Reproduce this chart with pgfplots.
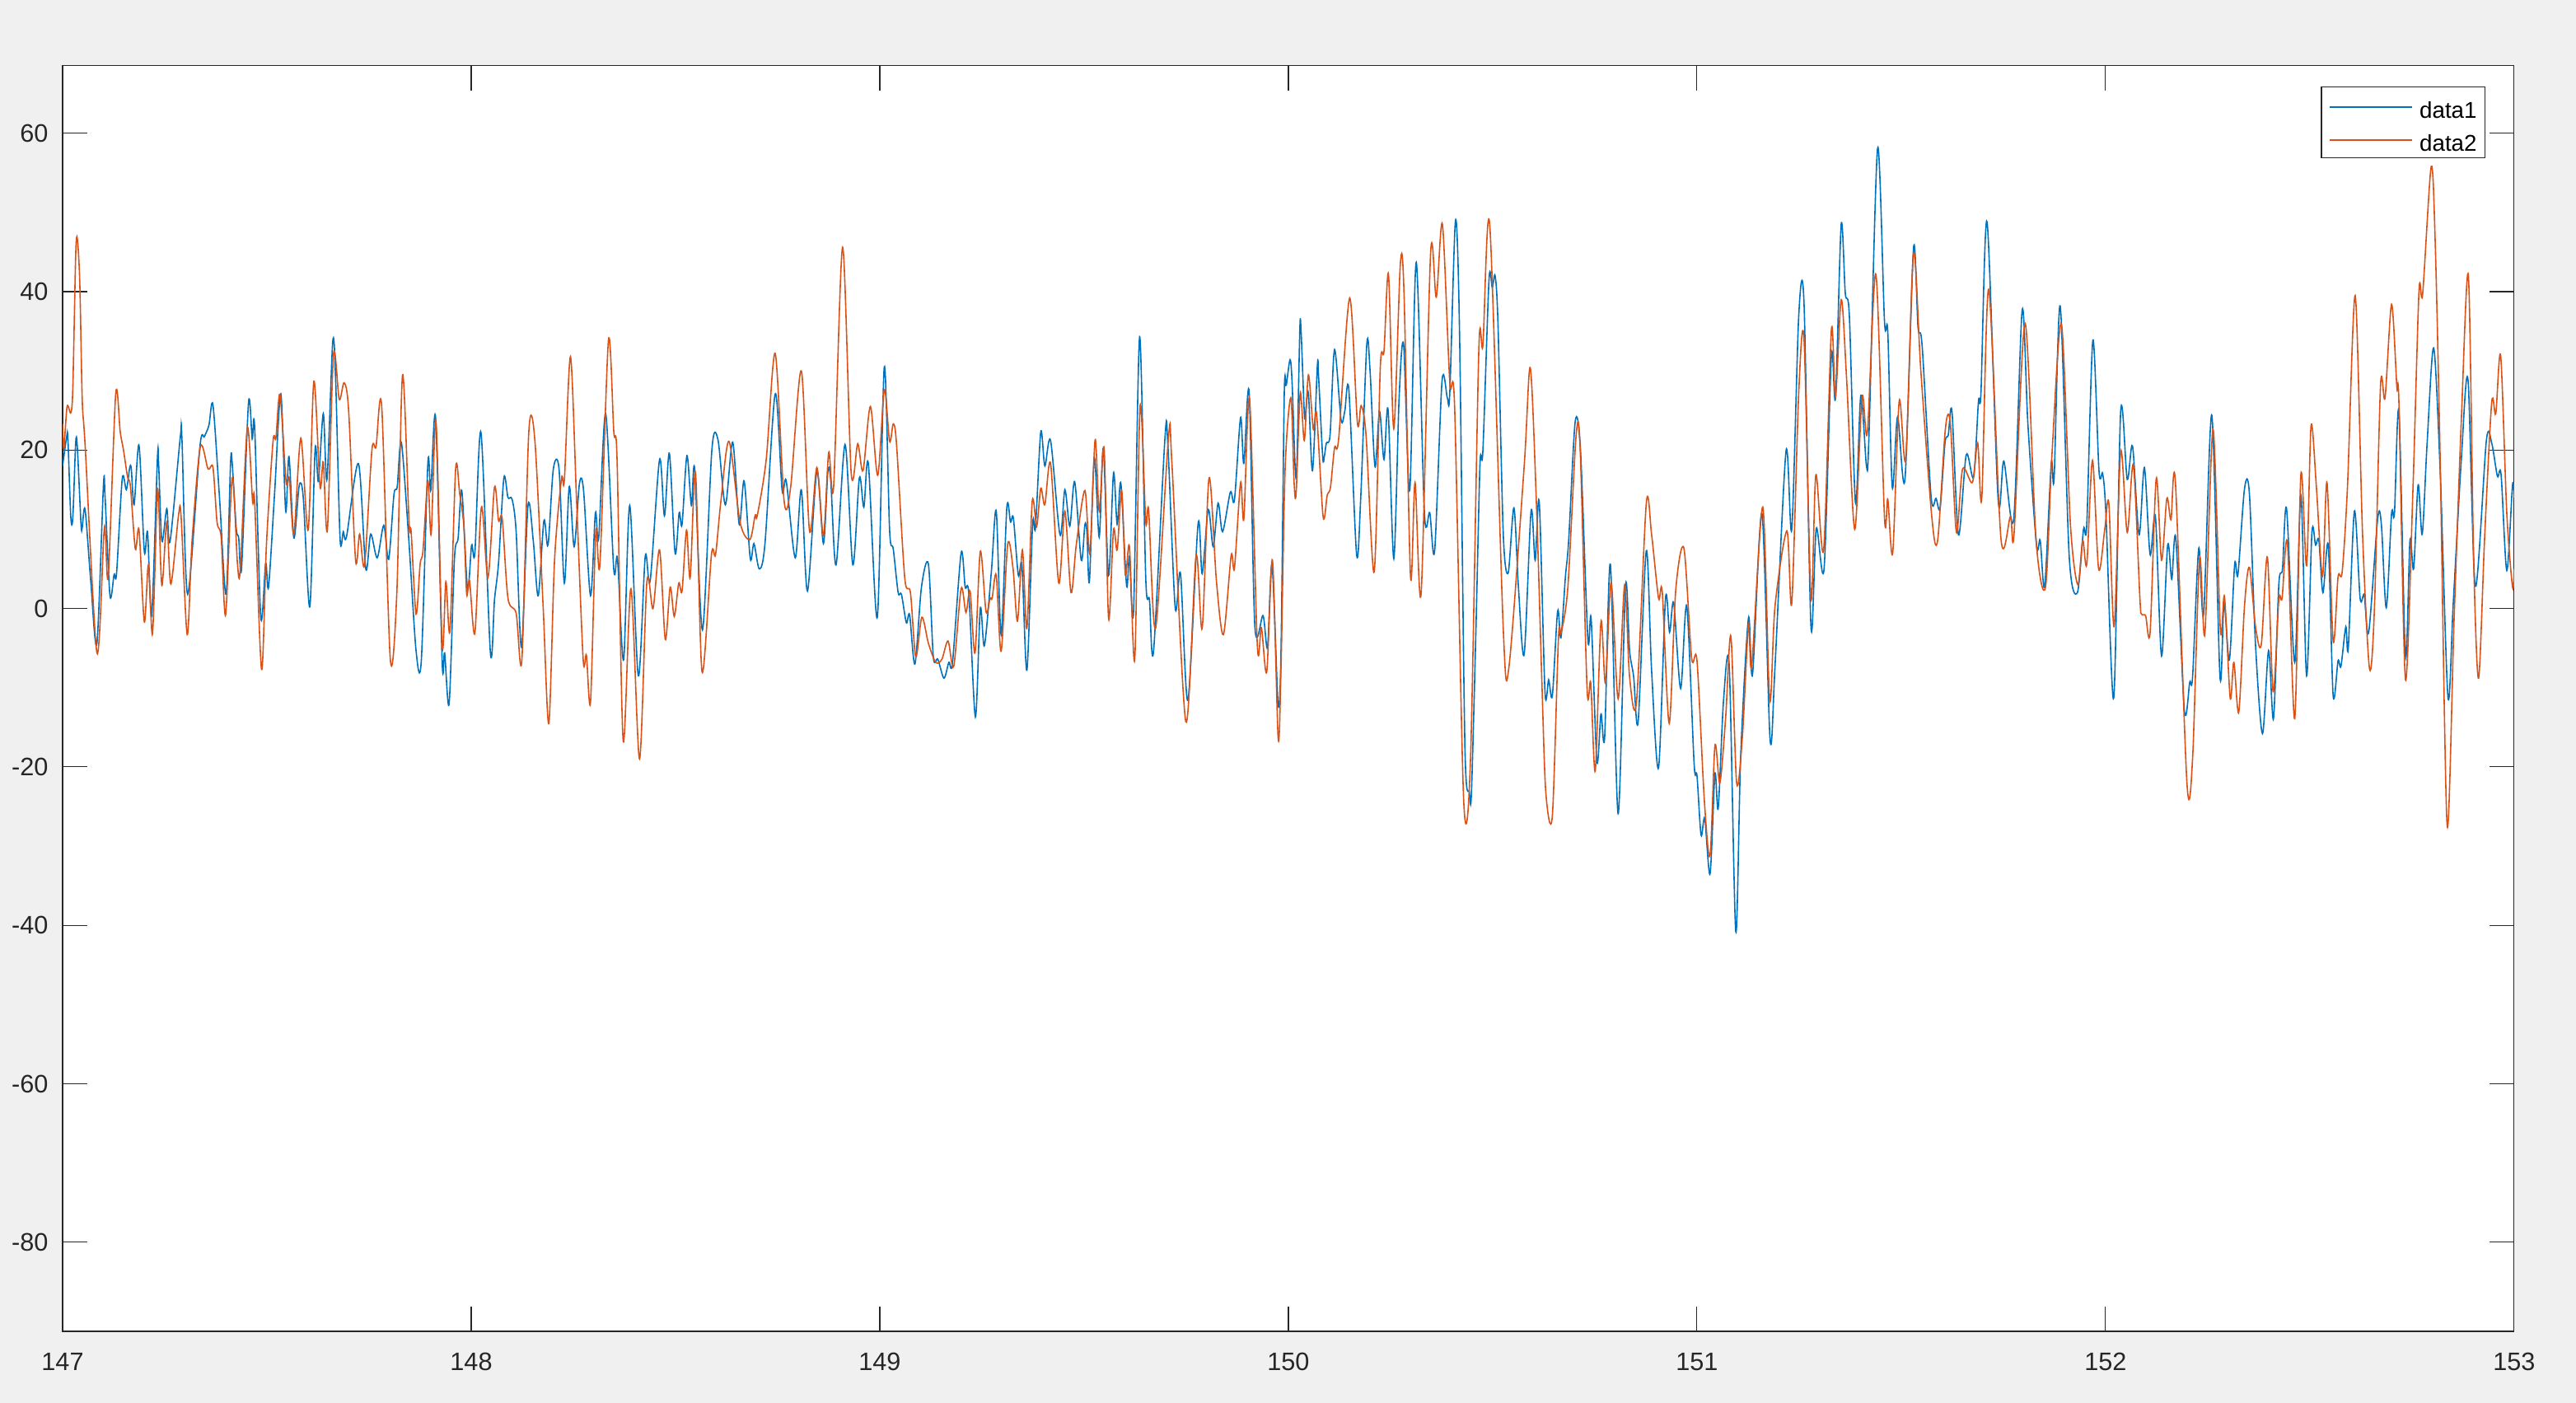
\documentclass[border=0pt]{standalone}
\usepackage{fontspec}
\setmainfont{Liberation Sans}
\usepackage{pgfplots}
\usepackage{pgfplotstable}
\pgfplotsset{compat=1.18}
\definecolor{mblue}{RGB}{0,114,189}
\definecolor{morange}{RGB}{217,83,25}
\definecolor{maxis}{RGB}{38,38,38}
\definecolor{figbg}{RGB}{240,240,240}
\pgfplotstableread{
x y
147.000 18.0
147.010 21.7
147.013 21.4
147.020 11.6
147.025 11.5
147.032 20.9
147.036 20.4
147.045 10.7
147.048 10.2
147.055 12.5
147.069 3.4
147.084 -4.4
147.100 15.6
147.104 14.0
147.116 1.6
147.126 4.3
147.132 4.4
147.146 16.4
147.156 15.0
147.164 17.7
147.168 17.7
147.175 13.1
147.187 20.6
147.200 7.2
147.208 9.6
147.218 -0.9
147.232 18.9
147.235 18.3
147.243 8.5
147.255 12.6
147.263 8.5
147.288 21.6
147.292 21.5
147.306 1.8
147.336 20.4
147.347 21.7
147.358 23.1
147.368 25.7
147.384 14.0
147.400 1.8
147.411 18.3
147.415 18.4
147.425 10.1
147.431 8.9
147.438 5.1
147.455 26.0
147.464 21.4
147.470 22.9
147.485 -1.1
147.497 5.7
147.504 2.7
147.519 14.7
147.534 27.1
147.546 12.3
147.554 19.2
147.566 8.9
147.579 15.5
147.589 14.0
147.605 0.2
147.618 20.1
147.626 16.1
147.638 24.6
147.647 16.3
147.661 33.6
147.668 29.3
147.679 8.9
147.687 9.7
147.695 9.1
147.724 18.3
147.742 5.0
147.754 9.4
147.770 6.4
147.786 10.5
147.798 6.2
147.811 14.4
147.819 15.4
147.829 21.0
147.847 8.9
147.865 -5.3
147.878 -6.5
147.894 18.4
147.901 14.9
147.913 24.0
147.929 -6.8
147.935 -5.6
147.946 -12.0
147.959 6.3
147.968 8.9
147.977 14.9
147.991 2.5
148.001 8.0
148.009 7.0
148.024 22.2
148.047 -5.6
148.057 1.1
148.067 5.8
148.080 16.5
148.090 14.0
148.100 13.8
148.110 9.7
148.123 -4.9
148.139 13.0
148.152 8.5
148.164 1.6
148.178 11.1
148.188 8.0
148.201 17.6
148.215 17.6
148.228 3.2
148.240 15.4
148.252 7.8
148.265 15.8
148.275 14.9
148.292 1.6
148.304 12.1
148.312 8.9
148.329 24.6
148.349 4.9
148.358 6.3
148.373 -6.5
148.388 13.0
148.409 -8.5
148.426 6.6
148.438 3.5
148.461 18.8
148.473 11.7
148.485 19.6
148.499 7.0
148.509 12.1
148.516 10.6
148.528 19.3
148.539 13.0
148.547 17.6
148.566 -2.7
148.589 20.0
148.604 21.3
148.622 13.1
148.640 21.0
148.656 10.6
148.668 16.1
148.683 6.3
148.692 8.2
148.705 5.0
148.719 8.2
148.744 27.1
148.761 14.9
148.771 16.1
148.793 6.4
148.808 15.0
148.823 2.2
148.846 17.3
148.862 8.2
148.873 17.3
148.880 16.1
148.893 5.5
148.915 20.7
148.934 5.5
148.950 16.5
148.961 12.8
148.972 18.3
148.994 -1.1
149.011 30.5
149.024 9.9
149.033 7.5
149.045 2.0
149.053 1.8
149.065 -1.8
149.073 -0.8
149.086 -7.0
149.102 2.7
149.119 5.6
149.131 -6.1
149.142 -6.4
149.157 -8.8
149.169 -6.8
149.178 -6.8
149.199 7.0
149.209 2.7
149.218 1.8
149.234 -13.7
149.246 0.0
149.256 -4.7
149.273 4.6
149.285 12.3
149.297 -3.3
149.311 12.8
149.320 10.9
149.327 11.4
149.339 4.2
149.348 5.4
149.360 -7.8
149.374 10.6
149.381 10.2
149.394 22.3
149.404 18.0
149.418 21.2
149.441 9.3
149.453 15.0
149.465 10.4
149.477 16.0
149.493 6.1
149.502 10.6
149.507 9.6
149.513 3.4
149.525 19.0
149.537 9.0
149.547 20.2
149.560 4.2
149.572 17.1
149.581 10.6
149.590 15.8
149.604 2.9
149.611 6.6
149.621 -0.4
149.636 34.3
149.651 3.7
149.660 1.1
149.670 -5.4
149.698 21.6
149.705 20.7
149.723 0.1
149.736 4.4
149.754 -11.6
149.779 10.7
149.789 4.4
149.804 12.5
149.816 7.8
149.828 13.3
149.839 9.7
149.858 14.7
149.868 13.7
149.883 24.1
149.891 18.3
149.904 27.3
149.918 -2.3
149.938 -0.9
149.949 -4.9
149.960 5.5
149.975 -12.1
149.982 -5.3
149.990 27.2
149.995 28.2
150.004 31.4
150.009 28.6
150.017 17.3
150.021 18.6
150.028 35.2
150.031 35.1
150.039 24.6
150.042 24.7
150.049 27.2
150.059 17.4
150.071 30.7
150.074 29.2
150.084 19.1
150.088 19.2
150.093 20.9
150.102 21.9
150.113 32.7
150.129 23.8
150.138 24.9
150.148 27.6
150.167 6.8
150.177 13.9
150.192 33.4
150.200 29.9
150.212 17.9
150.223 24.9
150.234 18.8
150.244 25.1
150.258 6.3
150.271 26.6
150.282 33.3
150.297 14.9
150.313 43.7
150.333 12.0
150.346 12.1
150.358 7.3
150.376 28.7
150.389 26.6
150.395 27.2
150.409 49.0
150.419 34.5
150.432 -17.3
150.443 -23.2
150.448 -23.3
150.459 -2.7
150.469 18.3
150.476 19.9
150.491 41.5
150.499 40.5
150.506 42.0
150.513 35.9
150.526 9.3
150.538 4.5
150.552 12.7
150.563 2.7
150.577 -5.8
150.594 12.3
150.604 6.1
150.614 13.4
150.628 -10.5
150.637 -9.0
150.646 -11.0
150.659 -0.3
150.667 -3.7
150.678 4.0
150.686 8.6
150.702 23.6
150.715 19.9
150.733 -3.9
150.741 -1.3
150.755 -19.3
150.765 -13.3
150.774 -16.3
150.788 5.6
150.807 -25.9
150.825 2.8
150.835 -5.3
150.845 -8.6
150.856 -14.3
150.876 7.3
150.889 -7.9
150.906 -20.1
150.923 1.3
150.933 -3.0
150.943 0.7
150.960 -10.1
150.975 0.3
150.993 -19.6
151.000 -21.1
151.010 -28.6
151.019 -26.5
151.032 -33.5
151.044 -20.9
151.052 -25.2
151.065 -11.6
151.079 -7.3
151.095 -40.8
151.107 -18.6
151.126 -1.2
151.136 -8.3
151.159 12.0
151.179 -16.6
151.191 -7.3
151.218 19.9
151.232 10.0
151.249 36.9
151.262 38.5
151.279 -2.3
151.292 10.1
151.311 5.0
151.329 31.9
151.339 26.6
151.353 48.5
151.363 39.8
151.373 36.9
151.388 13.3
151.401 26.9
151.415 17.9
151.421 21.9
151.442 58.1
151.459 36.2
151.467 34.9
151.478 15.3
151.491 24.2
151.509 16.3
151.530 45.5
151.541 35.5
151.551 33.2
151.573 14.1
151.585 13.9
151.595 12.7
151.607 20.9
151.615 21.9
151.624 24.9
151.640 9.3
151.659 19.4
151.677 16.6
151.689 26.2
151.695 27.2
151.710 48.8
151.737 13.8
151.751 18.6
151.775 11.2
151.796 37.7
151.810 23.2
151.831 8.0
151.840 8.6
151.851 2.8
151.867 18.3
151.874 16.4
151.889 38.2
151.911 6.6
151.931 2.0
151.946 10.0
151.954 10.6
151.969 33.9
151.984 17.3
151.993 17.0
152.001 11.8
152.020 -11.3
152.037 24.9
152.053 16.3
152.066 20.5
152.082 9.3
152.095 17.8
152.109 6.8
152.122 11.6
152.137 -6.0
152.152 8.0
152.162 3.7
152.172 8.8
152.193 -12.9
152.206 -9.3
152.213 -8.6
152.228 7.6
152.240 -0.7
152.260 24.4
152.280 -8.6
152.290 0.7
152.303 -6.5
152.316 5.6
152.324 4.3
152.340 15.1
152.352 14.5
152.367 -4.6
152.384 -15.8
152.399 -5.3
152.411 -13.9
152.424 3.0
152.433 5.0
152.443 12.6
152.463 -6.8
152.478 14.3
152.492 -8.5
152.505 9.6
152.514 8.0
152.522 8.6
152.532 2.0
152.545 8.0
152.557 -11.0
152.569 -6.6
152.576 -7.3
152.588 -2.3
152.594 -5.0
152.609 12.3
152.623 1.3
152.633 1.7
152.644 -3.0
152.666 11.3
152.675 10.6
152.687 0.1
152.700 12.0
152.707 12.0
152.718 24.9
152.734 -6.0
152.745 8.6
152.754 5.0
152.765 15.6
152.775 9.4
152.787 20.9
152.803 32.9
152.819 17.3
152.838 -11.2
152.851 0.7
152.871 19.1
152.887 28.9
152.905 2.8
152.932 21.2
152.945 20.9
152.959 16.7
152.968 16.9
152.982 4.8
152.996 15.6
153.000 14.0
}\dataone
\pgfplotstableread{
x y
147.000 23.3
147.003 20.2
147.011 25.5
147.020 24.7
147.025 27.8
147.032 44.6
147.036 46.7
147.042 41.2
147.048 26.4
147.055 20.7
147.084 -5.6
147.101 9.4
147.105 9.2
147.112 4.2
147.130 27.1
147.141 22.3
147.149 20.0
147.159 16.6
147.166 15.4
147.178 7.5
147.187 9.9
147.200 -1.7
147.210 5.5
147.220 -3.2
147.231 13.8
147.235 13.5
147.243 2.9
147.255 10.9
147.265 3.1
147.284 11.9
147.290 11.6
147.305 -3.3
147.317 8.7
147.337 20.4
147.356 17.6
147.368 17.8
147.378 10.9
147.388 9.0
147.399 -0.8
147.415 16.5
147.428 5.6
147.435 5.1
147.452 22.8
147.465 13.5
147.470 13.5
147.487 -7.7
147.499 8.2
147.515 21.1
147.522 21.5
147.532 27.0
147.547 16.0
147.555 16.4
147.566 9.4
147.583 21.5
147.601 9.9
147.615 28.7
147.630 15.4
147.638 18.5
147.648 9.9
147.663 32.1
147.677 26.4
147.689 28.5
147.700 25.0
147.717 6.1
147.727 9.4
147.739 5.5
147.757 20.0
147.767 20.4
147.781 25.5
147.802 -6.4
147.818 2.0
147.832 29.5
147.848 10.7
147.853 9.7
147.865 -0.7
147.875 5.6
147.882 7.3
147.894 16.1
147.902 9.4
147.914 23.5
147.929 -4.7
147.938 3.4
147.948 -2.8
147.962 17.7
147.972 14.4
147.982 10.4
147.989 1.8
147.996 3.5
148.009 -3.1
148.025 12.8
148.041 3.9
148.057 15.3
148.067 11.1
148.076 11.3
148.090 1.3
148.110 -0.6
148.124 -6.5
148.141 22.3
148.156 21.1
148.176 0.3
148.190 -14.5
148.204 6.1
148.221 16.4
148.228 16.2
148.243 31.8
148.258 13.5
148.274 -6.4
148.282 -5.9
148.292 -11.8
148.305 9.7
148.315 5.6
148.336 33.9
148.349 22.3
148.357 18.8
148.372 -16.7
148.391 2.5
148.412 -19.0
148.430 3.4
148.445 0.0
148.461 7.4
148.475 -3.9
148.487 2.7
148.497 -1.0
148.508 3.2
148.516 2.2
148.527 9.9
148.536 3.9
148.549 17.1
148.565 -8.0
148.588 6.8
148.598 6.8
148.611 13.5
148.631 21.1
148.658 10.9
148.682 8.7
148.695 11.8
148.700 11.7
148.722 18.8
148.744 32.2
148.766 13.5
148.782 15.4
148.808 30.0
148.828 9.8
148.846 17.8
148.862 9.2
148.875 19.7
148.887 15.4
148.909 45.6
148.930 17.1
148.946 20.8
148.959 17.4
148.977 25.5
148.995 16.8
149.011 27.6
149.024 21.1
149.033 23.3
149.041 20.7
149.061 3.9
149.075 2.0
149.088 -6.1
149.103 -1.1
149.119 -4.4
149.137 -6.8
149.152 -6.4
149.167 -4.1
149.181 -7.3
149.199 2.5
149.211 -0.5
149.221 2.2
149.233 -5.6
149.246 7.2
149.260 -0.4
149.270 1.3
149.275 1.3
149.285 4.2
149.297 -5.4
149.313 8.1
149.326 5.1
149.337 -1.6
149.349 7.4
149.360 -2.5
149.373 13.5
149.384 10.4
149.394 15.2
149.404 13.1
149.418 18.3
149.438 3.2
149.453 12.3
149.468 2.0
149.481 8.1
149.502 14.9
149.514 7.0
149.527 21.3
149.537 12.3
149.549 20.2
149.560 -1.3
149.572 9.9
149.581 7.4
149.592 14.9
149.601 4.2
149.611 7.8
149.624 -6.4
149.637 25.5
149.651 10.9
149.658 12.4
149.675 -2.5
149.707 21.9
149.715 18.3
149.749 -14.3
149.774 6.6
149.789 -2.5
149.806 16.5
149.824 3.4
149.841 -3.3
149.860 6.7
149.868 5.1
149.883 15.9
149.891 11.3
149.905 26.4
149.924 -4.7
149.934 -2.4
149.947 -8.0
149.961 6.1
149.975 -16.4
149.982 -7.3
149.992 17.6
150.006 26.6
150.014 15.9
150.019 14.6
150.029 27.2
150.039 21.2
150.049 29.5
150.061 22.6
150.069 24.6
150.085 11.6
150.095 14.3
150.103 15.3
150.113 20.3
150.123 21.4
150.150 39.2
150.169 23.4
150.178 25.6
150.190 21.9
150.210 4.6
150.225 30.5
150.234 32.5
150.245 42.2
150.258 22.7
150.274 43.5
150.283 39.8
150.299 4.0
150.310 15.9
150.325 2.0
150.348 44.8
150.362 39.3
150.377 48.5
150.395 28.6
150.407 25.2
150.429 -24.2
150.446 -18.6
150.466 32.5
150.476 33.2
150.493 48.3
150.526 -2.7
150.540 -7.3
150.577 17.9
150.592 30.4
150.607 13.3
150.620 -8.6
150.630 -23.2
150.646 -26.2
150.661 -3.7
150.668 -3.0
150.684 2.7
150.704 21.7
150.714 20.3
150.731 -10.1
150.740 -9.4
150.751 -20.5
150.765 -1.7
150.776 -9.4
150.790 3.3
150.807 -11.4
150.823 3.0
150.835 -8.6
150.852 -11.8
150.876 13.3
150.889 9.3
150.906 1.3
150.915 2.1
150.932 -14.5
150.948 2.3
150.968 7.6
150.987 -6.3
151.000 -6.6
151.018 -24.2
151.032 -31.2
151.044 -17.3
151.056 -22.0
151.070 -13.9
151.083 -3.5
151.097 -22.0
151.111 -16.3
151.126 -2.1
151.134 -7.2
151.161 12.8
151.178 -11.6
151.191 0.3
151.220 9.8
151.232 0.7
151.249 27.2
151.262 34.0
151.279 1.3
151.291 16.9
151.310 7.4
151.329 35.2
151.339 26.7
151.353 39.0
151.366 29.2
151.386 10.0
151.404 26.7
151.417 22.2
151.438 42.2
151.459 11.4
151.467 13.8
151.479 7.0
151.495 26.2
151.511 18.9
151.530 44.8
151.548 29.9
151.575 11.4
151.589 8.6
151.608 22.7
151.620 23.4
151.635 9.6
151.650 17.6
151.674 15.9
151.687 20.9
151.697 13.9
151.714 40.3
151.744 8.8
151.767 11.6
151.776 9.4
151.803 36.0
151.830 8.6
151.853 2.7
151.869 19.6
151.892 35.9
151.914 10.6
151.932 3.0
151.944 8.6
151.954 5.6
151.968 18.7
151.983 5.0
151.998 10.0
152.008 13.3
152.021 -2.3
152.037 19.8
152.053 9.6
152.068 18.1
152.084 1.3
152.088 -0.7
152.098 -0.9
152.109 -3.0
152.124 16.4
152.137 6.1
152.150 13.9
152.160 11.2
152.171 15.9
152.199 -21.9
152.213 -18.9
152.230 6.3
152.243 -3.2
152.263 22.6
152.281 -2.7
152.291 1.5
152.305 -11.3
152.314 -6.8
152.326 -13.1
152.340 0.3
152.352 5.2
152.367 -2.3
152.381 -4.6
152.396 6.5
152.410 -10.5
152.424 1.1
152.432 1.3
152.445 8.3
152.463 -13.9
152.478 16.9
152.492 5.4
152.503 23.1
152.516 15.3
152.531 4.1
152.542 15.9
152.557 -4.1
152.569 4.0
152.579 4.6
152.592 15.3
152.611 39.5
152.629 9.3
152.646 -7.6
152.658 0.0
152.673 28.2
152.684 26.6
152.700 38.4
152.713 27.9
152.718 25.9
152.734 -9.0
152.752 14.6
152.767 40.0
152.776 39.7
152.797 55.8
152.807 45.8
152.819 18.6
152.836 -27.4
152.853 -1.3
152.871 24.2
152.888 42.0
152.901 5.9
152.913 -8.8
152.928 9.3
152.945 26.0
152.955 24.6
152.967 31.9
152.982 12.0
152.996 2.7
153.000 5.0
}\datatwo
\begin{document}
\begin{tikzpicture}
\fill[figbg] (-28.5pt,-32.6pt) rectangle (1144.1pt,606pt);
\begin{axis}[
  width=1116pt, height=576pt, scale only axis,
  xmin=147, xmax=153, ymin=-91.25, ymax=68.5,
  axis background/.style={fill=white},
  axis line style={draw=maxis, line width=0.4pt},
  xtick={147,148,149,150,151,152,153},
  xticklabels={147,148,149,150,151,152,153},
  ytick={-80,-60,-40,-20,0,20,40,60},
  yticklabels={-80,-60,-40,-20,0,20,40,60},
  xtick pos=both, ytick pos=both,
  xticklabel pos=lower, yticklabel pos=left,
  tick align=inside, major tick length=11.25pt,
  minor tick num=0,
  tick style={draw=maxis, line width=0.4pt},
  every tick label/.append style={font=\fontsize{11.5}{13}\selectfont, text=maxis},
  xticklabel style={anchor=center, inner sep=0pt, yshift=-13.9pt},
  yticklabel style={anchor=east, inner sep=0pt, xshift=-6.4pt},
  legend cell align=left,
  legend style={at={(1,1)}, anchor=north east, xshift=-13.2pt, yshift=-9.4pt,
    draw=maxis, line width=0.4pt, fill=white,
    font=\fontsize{10.4}{12}\selectfont,
    inner xsep=3.6pt, inner ysep=3pt, row sep=3.65pt, column sep=0pt,
    nodes={inner sep=0pt, text height=11.35pt, text depth=0pt, text=black}},
  legend image code/.code={\draw[#1, line width=0.6pt] (0pt,-0.45pt) -- (37.5pt,-0.45pt); \path (40.5pt,0pt);},
]
\addplot[mblue, line width=0.6pt, smooth, tension=0.5] table[x=x, y=y] {\dataone};
\addlegendentry{data1}
\addplot[morange, line width=0.6pt, smooth, tension=0.5] table[x=x, y=y] {\datatwo};
\addlegendentry{data2}
\end{axis}
\end{tikzpicture}
\end{document}
